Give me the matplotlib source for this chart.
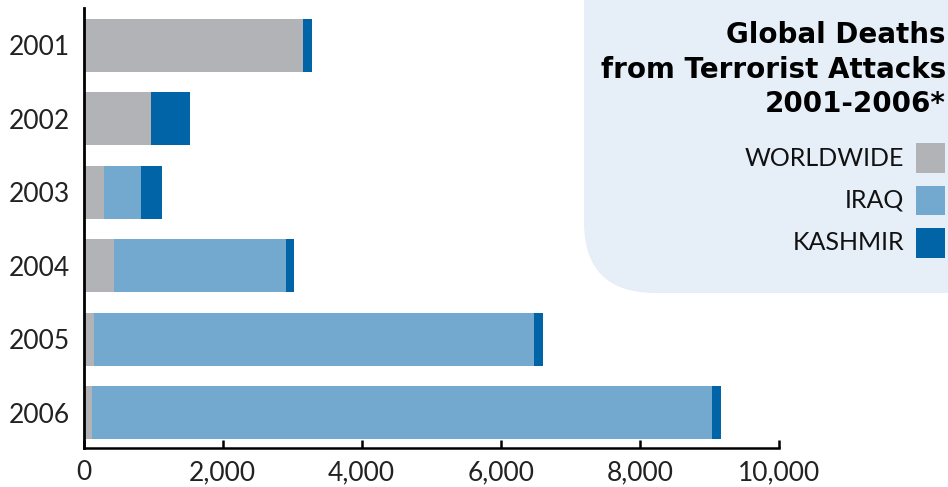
import numpy as np
import matplotlib
matplotlib.use("Agg")
import matplotlib.pyplot as plt
from matplotlib.patches import FancyBboxPatch, Rectangle

# data
years = ["2001", "2002", "2003", "2004", "2005", "2006"]
worldwide = [3158, 971, 295, 439, 151, 122]
iraq = [0, 0, 532, 2475, 6331, 8921]
kashmir = [130, 561, 302, 115, 130, 130]
series_names = ["WORLDWIDE", "IRAQ", "KASHMIR"]
colors = ["#b1b3b6", "#74a9cf", "#0064a6"]
xticks = [0, 2000, 4000, 6000, 8000, 10000]
title_lines = ["Global Deaths", "from Terrorist Attacks", "2001-2006*"]

plt.rcParams['font.family'] = ['Lato', 'DejaVu Sans']

fig = plt.figure(figsize=(9.48, 4.87), dpi=100)
W, H = 948, 487

# legend panel, only the bottom-left corner shows as rounded
panel = FancyBboxPatch((584 / W, (H - 293) / H), 500 / W, 400 / H,
                       boxstyle="round,pad=0,rounding_size=0.075",
                       transform=fig.transFigure, facecolor="#e6eff7",
                       edgecolor="none", zorder=0, mutation_aspect=W / H)
fig.patches.append(panel)

ax = fig.add_axes([83.5 / W, (H - 448) / H, (779 - 83.5) / W, (448 - 8) / H])
ax.patch.set_alpha(0)

y = np.arange(len(years))
left = np.zeros(len(years))
for vals, name, c in zip([worldwide, iraq, kashmir], series_names, colors):
    ax.barh(y, vals, left=left, height=0.72, color=c, label=name, zorder=2)
    left = left + np.array(vals)

ax.set_xlim(0, 10000)
ax.set_ylim(5.48, -0.51)
ax.set_yticks(y)
ax.set_yticklabels(years)
ax.set_xticks(xticks)
ax.set_xticklabels(["{:,}".format(t) for t in xticks])

for s in ["top", "right"]:
    ax.spines[s].set_visible(False)
ax.spines["left"].set_linewidth(2)
ax.spines["bottom"].set_linewidth(1.8)
ax.tick_params(axis="y", length=0, pad=10, labelsize=19, labelcolor="#222222")
ax.tick_params(axis="x", direction="in", length=6, width=1.8, pad=9,
               labelsize=19, labelcolor="#222222")

# title lines, right aligned in the panel
for line, yy in zip(title_lines, [35, 70, 104]):
    fig.text(946 / W, 1 - yy / H, line, ha="right", va="center",
             fontsize=20, fontweight="bold", family="DejaVu Sans",
             color="black")

legend_y = [158, 200, 243]
for name, c, yy in zip(series_names, colors, legend_y):
    fig.patches.append(Rectangle((916 / W, 1 - (yy + 14.5) / H), 29 / W, 29 / H,
                                 transform=fig.transFigure, facecolor=c,
                                 edgecolor="none"))
    fig.text(904 / W, 1 - yy / H, name, ha="right", va="center",
             fontsize=18, color="#111111")

fig.savefig("out.png", dpi=100)
